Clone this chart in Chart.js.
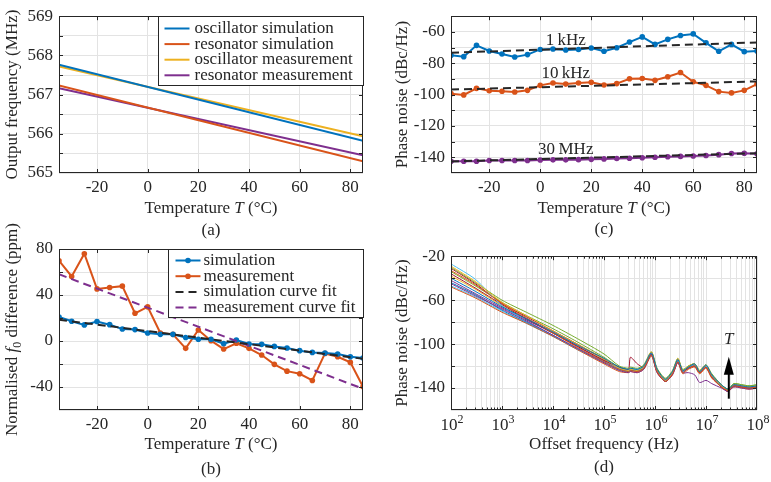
<!DOCTYPE html>
<html>
<head>
<meta charset="utf-8">
<script src="https://cdn.jsdelivr.net/npm/chart.js@4.4.1/dist/chart.umd.min.js"></script>
<style>
  body { margin: 0; background: #fff; width: 771px; height: 482px; overflow: hidden; position: relative; }
  canvas { position: absolute; }
</style>
</head>
<body>
<canvas id="chartA" width="380" height="240" style="left:0;top:0"></canvas>
<canvas id="chartB" width="380" height="267" style="left:0;top:215px"></canvas>
<canvas id="chartC" width="391" height="240" style="left:380px;top:0"></canvas>
<canvas id="chartD" width="391" height="242" style="left:380px;top:240px"></canvas>
<script>
const FONT = '"Liberation Serif", "Times New Roman", serif';
const FS = 17;
const INK = '#262626';
const GRID = '#e3e3e3';
const BLUE = '#0072BD', ORANGE = '#D95319', YELLOW = '#EDB120', PURPLE = '#7E2F8E',
      GREEN = '#77AC30', CYAN = '#4DBEEE', DARKRED = '#A2142F';

// shared temperature axis
const tempEnds = [-35, 85];
const temps = [-35, -30, -25, -20, -15, -10, -5, 0, 5, 10, 15, 20, 25, 30, 35, 40, 45, 50, 55, 60, 65, 70, 75, 80, 85];
const tempTicks = [-20, 0, 20, 40, 60, 80];

// (a) output frequency (MHz)
const oscSim  = [567.76, 565.82];
const resSim  = [567.23, 565.30];
const oscMeas = [567.72, 565.94];
const resMeas = [567.16, 565.45];
const aYTicks = [565, 565.5, 566, 566.5, 567, 567.5, 568, 568.5, 569];
const aYLabels = [565, 566, 567, 568, 569];

// (b) normalised f0 difference (ppm)
const simDiff  = [20.9, 17.2, 14, 16.9, 14.2, 10.5, 9.9, 7, 5.8, 5.8, 3, 1.5, 1.5, -2.3, 0.9, -2.6, -2.9, -4.7, -6.1, -8.4, -9.9, -10.5, -11.3, -13.7, -14.8];
const measDiff = [69.8, 56.1, 75.9, 45.3, 46.5, 47.7, 24.1, 29.7, 7, 5.8, -6.4, 9.6, 0.3, -7, -2, -6.4, -12.2, -20.3, -26.2, -28.5, -34.3, -10.8, -13.7, -18.6, -39.8];
const simFit  = [18.5, -15.5];
const measFit = [58, -41.5];
const bYTicks = [-60, -40, -20, 0, 20, 40, 60, 80];
const bYLabels = [-40, 0, 40, 80];

// (c) phase noise vs temperature (dBc/Hz)
const pn1k  = [-74.9, -75.8, -68.6, -72.2, -74.1, -76, -74.5, -71.2, -70.9, -71.6, -71.2, -70.3, -72.4, -70.1, -66.5, -63.2, -68, -64.8, -62.3, -61.3, -67, -72.4, -68, -72.6, -72.2];
const pn10k = [-99.4, -100.2, -96, -97.5, -97.9, -98.3, -97.3, -94.1, -92.6, -93.3, -92.6, -92.2, -93.9, -93, -89.9, -89.7, -90.9, -88.6, -85.9, -91.8, -94.1, -98.1, -98.9, -97.3, -93.3];
const pn30M = [-142.5, -142.5, -142.5, -142, -142, -142, -142, -141.7, -141.6, -141.6, -141.5, -141.3, -141, -140.8, -140.6, -140.3, -140, -139.6, -139.4, -139.2, -138.8, -138.3, -137.6, -137.4, -137.8];
const fit1k  = [-73.3, -66.7];
const fit10k = [-96.8, -91.6];
const fit30M = [-142.6, -137.4];
const cYTicks = [-150, -140, -130, -120, -110, -100, -90, -80, -70, -60, -50];
const cYLabels = [-140, -120, -100, -80, -60];
const cTexts = ['1\u2009kHz', '10\u2009kHz', '30\u2009MHz'];
const cTextY = [-65.8, -86.4, -135.2];
const cTextT = 10;

// (d) phase noise spectra, one trace per temperature
const offsetFreqs = [1e2, 3e2, 1e3, 3e3, 1e4, 3e4, 1e5, 2e5, 3e5, 3.3e5, 4.5e5, 6e5, 8.5e5, 1.1e6, 1.6e6, 2.2e6, 2.8e6, 3.5e6, 4.5e6, 6e6, 7.5e6, 1e7, 1.3e7, 2e7, 2.7e7, 3.5e7, 5e7, 7e7, 1e8];
const pnTraces = [
  [-40, -52, -66, -77, -89, -101, -113, -121, -123, -122, -123, -120, -108, -123, -132, -125, -114, -124, -121, -118, -125, -119, -128, -137, -141, -137, -138, -139, -138],
  [-33, -46, -63, -76, -90, -103, -116, -123, -125, -124, -125, -122, -110, -125, -134, -127, -116, -126, -122, -120, -126, -121, -130, -139, -142, -138, -139, -140, -139],
  [-29, -43, -62, -74, -88, -100, -113, -122, -124, -123, -124, -121, -107, -124, -133, -126, -113, -124, -120, -118, -124, -119, -128, -138, -142, -137, -138, -139, -138],
  [-45, -56, -68, -79, -92, -104, -117, -124, -126, -125, -126, -123, -110, -126, -134, -128, -117, -126, -126, -128, -135, -133, -136, -140, -143, -139, -140, -141, -140],
  [-30, -44, -60, -71, -83, -95, -109, -120, -122, -121, -122, -119, -107, -122, -131, -124, -113, -123, -120, -118, -124, -119, -127, -137, -141, -136, -137, -138, -137],
  [-27, -41, -65, -79, -92, -104, -116, -122, -124, -123, -123, -121, -108, -124, -133, -126, -115, -125, -121, -119, -125, -120, -129, -138, -142, -137, -138, -139, -138],
  [-36, -49, -64, -77, -90, -102, -115, -121, -123, -112, -118, -121, -109, -125, -134, -127, -116, -125, -122, -120, -126, -121, -130, -139, -143, -138, -139, -140, -139],
  [-44, -55, -69, -80, -92, -104, -116, -123, -125, -124, -124, -122, -109, -124, -133, -126, -115, -125, -121, -119, -125, -120, -129, -138, -142, -138, -138, -140, -139],
  [-48, -58, -71, -81, -93, -105, -118, -125, -126, -125, -126, -123, -111, -126, -134, -128, -117, -127, -123, -121, -127, -122, -131, -139, -143, -139, -140, -141, -140],
  [-38, -50, -65, -77, -89, -101, -114, -122, -124, -123, -124, -121, -108, -123, -132, -125, -114, -124, -121, -119, -125, -120, -128, -137, -141, -137, -138, -139, -138],
  [-42, -54, -67, -78, -90, -102, -115, -122, -124, -123, -125, -122, -109, -125, -133, -127, -116, -125, -122, -120, -126, -121, -130, -138, -142, -138, -139, -140, -139],
  [-34, -47, -62, -74, -86, -98, -112, -121, -123, -122, -123, -120, -108, -123, -132, -125, -114, -124, -120, -118, -124, -119, -128, -137, -141, -136, -137, -138, -137],
  [-47, -57, -70, -81, -93, -105, -117, -124, -125, -124, -125, -122, -110, -125, -134, -127, -116, -126, -122, -120, -126, -121, -130, -139, -143, -138, -139, -140, -139],
  [-31, -45, -63, -75, -88, -100, -114, -122, -124, -123, -124, -121, -108, -124, -133, -126, -115, -125, -121, -119, -125, -120, -129, -138, -142, -137, -138, -139, -138]
];
const traceColors = [BLUE, ORANGE, YELLOW, PURPLE, GREEN, CYAN, DARKRED];
const dDecades = [1e2, 1e3, 1e4, 1e5, 1e6, 1e7, 1e8];
const dMinorSteps = [2, 3, 4, 5, 6, 7, 8, 9];
const dYTicks = [-160, -140, -120, -100, -80, -60, -40, -20];
const dYLabels = [-140, -100, -60, -20];
const arrowF = 2.8e7, arrowFrom = -149.7, arrowTo = -111.6, arrowLabelY = -96.3;

// ---------- drawing helpers ----------
function rich(ctx, segs, x, y, rot, size) {
  size = size || FS;
  const fontOf = s => (s.it ? 'italic ' : '') + (s.sub || s.sup ? Math.round(size * 0.7) : size) + 'px ' + FONT;
  let w = 0;
  segs.forEach(s => { ctx.font = fontOf(s); s._w = ctx.measureText(s.t).width; w += s._w; });
  ctx.save();
  ctx.translate(x, y);
  ctx.rotate(rot || 0);
  ctx.fillStyle = INK;
  ctx.textBaseline = 'middle';
  ctx.textAlign = 'left';
  let cx = -w / 2;
  segs.forEach(s => {
    ctx.font = fontOf(s);
    ctx.fillText(s.t, cx, s.sub ? size * 0.28 : s.sup ? -size * 0.38 : 0);
    cx += s._w;
  });
  ctx.restore();
}

const framePlugin = {
  id: 'frame',
  afterDraw(chart, args, o) {
    const { ctx, chartArea: a, scales } = chart;
    ctx.save();
    // inner tick marks on all four sides
    ctx.strokeStyle = INK;
    ctx.lineWidth = 1;
    const xs = scales.x, ys = scales.y;
    xs.ticks.forEach(t => {
      const p = Math.round(xs.getPixelForValue(t.value)) + 0.5;
      if (p <= a.left + 1 || p >= a.right - 1) return;
      const len = (o.logX && Math.abs(Math.log10(t.value) % 1) > 1e-6) ? 2.5 : 4;
      ctx.beginPath();
      ctx.moveTo(p, a.bottom); ctx.lineTo(p, a.bottom - len);
      ctx.moveTo(p, a.top); ctx.lineTo(p, a.top + len);
      ctx.stroke();
    });
    ys.ticks.forEach(t => {
      const p = Math.round(ys.getPixelForValue(t.value)) + 0.5;
      if (p <= a.top + 1 || p >= a.bottom - 1) return;
      ctx.beginPath();
      ctx.moveTo(a.left, p); ctx.lineTo(a.left + 4, p);
      ctx.moveTo(a.right, p); ctx.lineTo(a.right - 4, p);
      ctx.stroke();
    });
    // axes box
    ctx.strokeRect(Math.round(a.left) + 0.5, Math.round(a.top) + 0.5, Math.round(a.right - a.left) - 1, Math.round(a.bottom - a.top) - 1);

    // log decade labels 10^n
    if (o.logX) {
      dDecades.forEach(v => {
        const p = xs.getPixelForValue(v);
        rich(ctx, [{ t: '10' }, { t: String(Math.round(Math.log10(v))), sup: true }], p + 1, a.bottom + 16, 0);
      });
    }
    // text annotations in data coordinates
    (o.texts || []).forEach(tx => {
      rich(ctx, tx.segs, xs.getPixelForValue(tx.x), ys.getPixelForValue(tx.y), 0);
    });
    // arrow
    if (o.arrow) {
      const ar = o.arrow;
      const px = xs.getPixelForValue(ar.x);
      const y0 = ys.getPixelForValue(ar.from), y1 = ys.getPixelForValue(ar.to);
      ctx.fillStyle = '#000';
      ctx.strokeStyle = '#000';
      ctx.lineWidth = 2;
      ctx.beginPath(); ctx.moveTo(px, y0); ctx.lineTo(px, y1 + 12); ctx.stroke();
      ctx.beginPath(); ctx.moveTo(px, y1); ctx.lineTo(px - 5, y1 + 18); ctx.lineTo(px + 5, y1 + 18); ctx.closePath(); ctx.fill();
      rich(ctx, [{ t: 'T', it: true }], px, ys.getPixelForValue(ar.label), 0);
    }
    // titles and caption
    if (o.xTitle) rich(ctx, o.xTitle, (a.left + a.right) / 2, a.bottom + o.xGap, 0);
    if (o.yTitle) rich(ctx, o.yTitle, a.left - o.yGap, (a.top + a.bottom) / 2, -Math.PI / 2);
    if (o.caption) rich(ctx, [{ t: o.caption }], (a.left + a.right) / 2, a.bottom + o.capGap, 0);

    // legend inside the axes, top right
    if (o.legend) {
      const L = o.legend;
      const x0 = Math.round(a.right - L.w) + 0.5, y0 = Math.round(a.top) + 0.5;
      ctx.fillStyle = '#fff';
      ctx.fillRect(x0, y0, L.w, L.h);
      ctx.strokeStyle = INK;
      ctx.lineWidth = 1;
      ctx.strokeRect(x0, y0, L.w, L.h);
      L.items.forEach((di, i) => {
        const ds = chart.data.datasets[di];
        const ry = y0 + L.row0 + i * L.gap;
        ctx.save();
        ctx.strokeStyle = ds.borderColor;
        ctx.lineWidth = ds.borderWidth || 2;
        ctx.setLineDash(ds.borderDash || []);
        ctx.beginPath(); ctx.moveTo(x0 + L.l0, ry); ctx.lineTo(x0 + L.l1, ry); ctx.stroke();
        ctx.restore();
        if (ds.pointRadius) {
          ctx.fillStyle = ds.borderColor;
          ctx.beginPath(); ctx.arc(x0 + (L.l0 + L.l1) / 2, ry, ds.pointRadius, 0, Math.PI * 2); ctx.fill();
        }
        ctx.fillStyle = INK;
        ctx.font = FS + 'px ' + FONT;
        ctx.textBaseline = 'middle';
        ctx.textAlign = 'left';
        ctx.fillText(ds.label, x0 + L.tx, ry);
      });
    }
    ctx.restore();
  }
};

function linAxis(min, max, ticks, labels, pad) {
  return {
    type: 'linear', min, max,
    afterBuildTicks: s => { s.ticks = ticks.map(v => ({ value: v })); },
    ticks: { autoSkip: false, maxRotation: 0, padding: pad, color: INK, font: { family: FONT, size: FS },
             callback: v => labels.includes(v) ? String(v) : '' },
    grid: { color: GRID, drawTicks: false },
    border: { display: false }
  };
}

const X_AXIS_H = 30;
// area = chart area inset from each canvas edge
function makeChart(id, datasets, xAxis, yAxis, area, frame) {
  xAxis.afterFit = s => { s.height = X_AXIS_H; };
  yAxis.afterFit = s => { s.width = area.left; };
  return new Chart(document.getElementById(id), {
    type: 'line',
    data: { datasets },
    options: {
      responsive: false, animation: false, events: [],
      layout: { padding: { left: 0, top: area.top, right: area.right, bottom: area.bottom - X_AXIS_H } },
      scales: { x: xAxis, y: yAxis },
      plugins: { legend: { display: false }, tooltip: { enabled: false }, frame }
    },
    plugins: [framePlugin]
  });
}

const pts = (xs, ys) => xs.map((x, i) => ({ x, y: ys[i] }));
const line = (label, xs, ys, color, extra) => Object.assign({
  label, data: pts(xs, ys), borderColor: color, backgroundColor: color,
  borderWidth: 2, pointRadius: 0, tension: 0, order: 1
}, extra || {});
const marked = { pointRadius: 2.8, pointBorderWidth: 0 };
const dashed = { borderDash: [8, 5], order: 0 };
const tempTitle = [{ t: 'Temperature ' }, { t: 'T', it: true }, { t: ' (°C)' }];

// (a)
makeChart('chartA', [
  line('oscillator simulation', tempEnds, oscSim, BLUE),
  line('resonator simulation', tempEnds, resSim, ORANGE),
  line('oscillator measurement', tempEnds, oscMeas, YELLOW),
  line('resonator measurement', tempEnds, resMeas, PURPLE)
], linAxis(-35, 85, tempTicks, tempTicks, 4), linAxis(565, 569, aYTicks, aYLabels, 6),
{ left: 59, top: 12, right: 17, bottom: 67 },
{ xTitle: tempTitle, xGap: 36, yTitle: [{ t: 'Output frequency (MHz)' }], yGap: 46, caption: '(a)', capGap: 58,
  legend: { w: 205, h: 69, items: [0, 1, 2, 3], row0: 12, gap: 15.6, l0: 6, l1: 31, tx: 36 } });

// (b)
makeChart('chartB', [
  line('simulation', temps, simDiff, BLUE, marked),
  line('measurement', temps, measDiff, ORANGE, marked),
  line('simulation curve fit', tempEnds, simFit, INK, dashed),
  line('measurement curve fit', tempEnds, measFit, PURPLE, dashed)
], linAxis(-35, 85, tempTicks, tempTicks, 4), linAxis(-60, 80, bYTicks, bYLabels, 6),
{ left: 59, top: 34, right: 17, bottom: 72 },
{ xTitle: tempTitle, xGap: 35, yTitle: [{ t: 'Normalised ' }, { t: 'f', it: true }, { t: '0', sub: true }, { t: ' difference (ppm)' }],
  yGap: 46, caption: '(b)', capGap: 60,
  legend: { w: 195, h: 68, items: [0, 1, 2, 3], row0: 11, gap: 15.7, l0: 7, l1: 32, tx: 35 } });

// (c)
makeChart('chartC', [
  line('1 kHz', temps, pn1k, BLUE, marked),
  line('10 kHz', temps, pn10k, ORANGE, marked),
  line('30 MHz', temps, pn30M, PURPLE, marked),
  line('1 kHz fit', tempEnds, fit1k, INK, dashed),
  line('10 kHz fit', tempEnds, fit10k, INK, dashed),
  line('30 MHz fit', tempEnds, fit30M, INK, dashed)
], linAxis(-35, 85, tempTicks, tempTicks, 4), linAxis(-150, -50, cYTicks, cYLabels, 6),
{ left: 71, top: 12, right: 14, bottom: 67 },
{ xTitle: tempTitle, xGap: 36, yTitle: [{ t: 'Phase noise (dBc/Hz)' }], yGap: 48, caption: '(c)', capGap: 57,
  texts: cTexts.map((t, i) => ({ segs: [{ t }], x: cTextT, y: cTextY[i] })) });

// (d)
const dTicks = [];
dDecades.forEach(d => { dTicks.push(d); if (d < 1e8) dMinorSteps.forEach(m => dTicks.push(d * m)); });
makeChart('chartD', pnTraces.map((tr, i) => line('T' + i, offsetFreqs, tr, traceColors[i % traceColors.length], { borderWidth: 1, tension: 0.25 })),
{
  type: 'logarithmic', min: 1e2, max: 1e8,
  afterBuildTicks: s => { s.ticks = dTicks.map(v => ({ value: v })); },
  ticks: { autoSkip: false, maxRotation: 0, callback: () => '' },
  grid: { color: GRID, drawTicks: false },
  border: { display: false }
}, linAxis(-160, -20, dYTicks, dYLabels, 6),
{ left: 71, top: 9, right: 14, bottom: 72 },
{ logX: true, xTitle: [{ t: 'Offset frequency (Hz)' }], xGap: 35, yTitle: [{ t: 'Phase noise (dBc/Hz)' }], yGap: 48,
  caption: '(d)', capGap: 58, arrow: { x: arrowF, from: arrowFrom, to: arrowTo, label: arrowLabelY } });
</script>
</body>
</html>
